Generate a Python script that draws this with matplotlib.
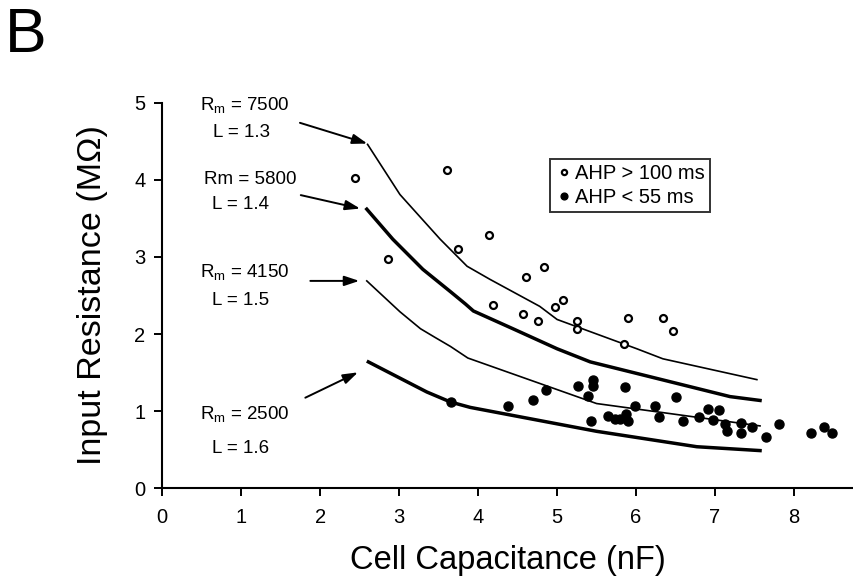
import numpy as np
import matplotlib
matplotlib.use("Agg")
import matplotlib.pyplot as plt

plt.rcParams['font.family'] = ['Liberation Sans', 'DejaVu Sans']
plt.rcParams['mathtext.fontset'] = 'custom'
plt.rcParams['mathtext.rm'] = 'Liberation Sans'
plt.rcParams['mathtext.it'] = 'Liberation Sans'

# model curves (Rm, L)
cap_7500 = [2.60, 3.01, 3.30, 3.52, 3.86, 4.15, 4.78, 5.00, 6.01, 6.34, 7.53]
res_7500 = [4.46, 3.81, 3.48, 3.23, 2.88, 2.71, 2.36, 2.19, 1.81, 1.68, 1.41]

cap_5800 = [2.59, 2.92, 3.30, 3.65, 3.84, 3.94, 4.44, 5.00, 5.42, 7.19, 7.57]
res_5800 = [3.62, 3.23, 2.84, 2.55, 2.39, 2.30, 2.07, 1.81, 1.64, 1.19, 1.14]

cap_4150 = [2.59, 3.01, 3.27, 3.45, 3.65, 3.87, 5.50, 7.57]
res_4150 = [2.69, 2.29, 2.07, 1.96, 1.84, 1.69, 1.10, 0.81]

cap_2500 = [2.61, 3.35, 3.65, 3.90, 5.50, 6.77, 7.57]
res_2500 = [1.64, 1.25, 1.12, 1.05, 0.74, 0.54, 0.49]

# cells with AHP > 100 ms (open)
open_cap = [2.44, 2.86, 3.61, 4.14, 3.75, 4.84, 4.61, 5.08, 4.97, 4.19, 4.57,
            4.76, 5.25, 5.25, 5.90, 6.34, 6.47, 5.85]
open_res = [4.02, 2.97, 4.13, 3.28, 3.10, 2.87, 2.74, 2.44, 2.35, 2.38, 2.26,
            2.17, 2.17, 2.07, 2.21, 2.21, 2.04, 1.87]

# cells with AHP < 55 ms (filled)
fill_cap = [3.66, 4.38, 4.70, 4.86, 5.27, 5.46, 5.46, 5.39, 5.43, 5.65, 5.73,
            5.87, 5.90, 5.80, 5.86, 5.99, 6.24, 6.29, 6.51, 6.59, 6.80, 6.91,
            7.05, 6.97, 7.13, 7.15, 7.33, 7.33, 7.47, 7.65, 7.81, 8.22, 8.38, 8.48]
fill_res = [1.12, 1.07, 1.14, 1.28, 1.33, 1.40, 1.33, 1.20, 0.88, 0.94, 0.90,
            0.97, 0.87, 0.90, 1.32, 1.07, 1.07, 0.93, 1.18, 0.87, 0.92, 1.03,
            1.02, 0.89, 0.83, 0.74, 0.85, 0.72, 0.80, 0.66, 0.83, 0.72, 0.79, 0.72]

labels = [('R$_\\mathrm{m}$ = 7500', 'L = 1.3'),
          ('Rm = 5800', 'L = 1.4'),
          ('R$_\\mathrm{m}$ = 4150', 'L = 1.5'),
          ('R$_\\mathrm{m}$ = 2500', 'L = 1.6')]

fig = plt.figure(figsize=(8.54, 5.87), dpi=100)
ax = fig.add_axes([0.19, 0.168, 0.81, 0.657])

ax.plot(cap_7500, res_7500, color='black', lw=1.2)
ax.plot(cap_5800, res_5800, color='black', lw=2.5)
ax.plot(cap_4150, res_4150, color='black', lw=1.2)
ax.plot(cap_2500, res_2500, color='black', lw=2.5)

ax.plot(open_cap, open_res, 'o', mfc='white', mec='black', mew=1.6, ms=5,
        ls='none', label='AHP > 100 ms')
ax.plot(fill_cap, fill_res, 'o', color='black', ms=6.5, ls='none',
        label='AHP < 55 ms')

# annotation text positions and arrows
name_pos = [(1.05, 4.97), (1.11, 4.00), (1.05, 2.80), (1.05, 0.97)]
l_pos = [(1.0, 4.61), (0.99, 3.68), (0.99, 2.43), (0.99, 0.52)]
arrow_from = [(1.71, 4.75), (1.72, 3.81), (1.84, 2.69), (1.78, 1.16)]
arrow_to = [(2.63, 4.46), (2.54, 3.62), (2.53, 2.69), (2.51, 1.52)]
for (a, b), p1, p2, s, e in zip(labels, name_pos, l_pos, arrow_from, arrow_to):
    ax.text(p1[0], p1[1], a, fontsize=13.5, ha='center', va='center', clip_on=False)
    ax.text(p2[0], p2[1], b, fontsize=13.5, ha='center', va='center')
    ax.annotate('', xy=e, xytext=s,
                arrowprops=dict(arrowstyle='-|>,head_length=0.9,head_width=0.3',
                                color='black', lw=1.4))

leg = ax.legend(loc='upper left', bbox_to_anchor=(0.561, 0.855), fontsize=14.5,
                frameon=True, fancybox=False, edgecolor='black',
                handletextpad=0.1, handlelength=0.9, borderpad=0.25,
                labelspacing=0.25, markerscale=0.75, borderaxespad=0)
leg.get_frame().set_linewidth(1.4)

ax.set_xlim(0, 8.76)
ax.set_ylim(0, 5)
ax.set_xticks(range(0, 9))
ax.set_yticks(range(0, 6))
ax.tick_params(labelsize=14.5, length=6, width=1.4, direction='out')
ax.tick_params(axis='x', pad=8)
ax.tick_params(axis='y', pad=6)
ax.spines['top'].set_visible(False)
ax.spines['right'].set_visible(False)
ax.spines['left'].set_linewidth(1.5)
ax.spines['bottom'].set_linewidth(1.5)

ax.set_xlabel('Cell Capacitance (nF)', fontsize=23.5, labelpad=13)
ax.set_ylabel('Input Resistance (MΩ)', fontsize=24.5, labelpad=19)

fig.text(0.006, 0.99, 'B', fontsize=45, va='top', ha='left')

fig.savefig('out.png', dpi=100)
